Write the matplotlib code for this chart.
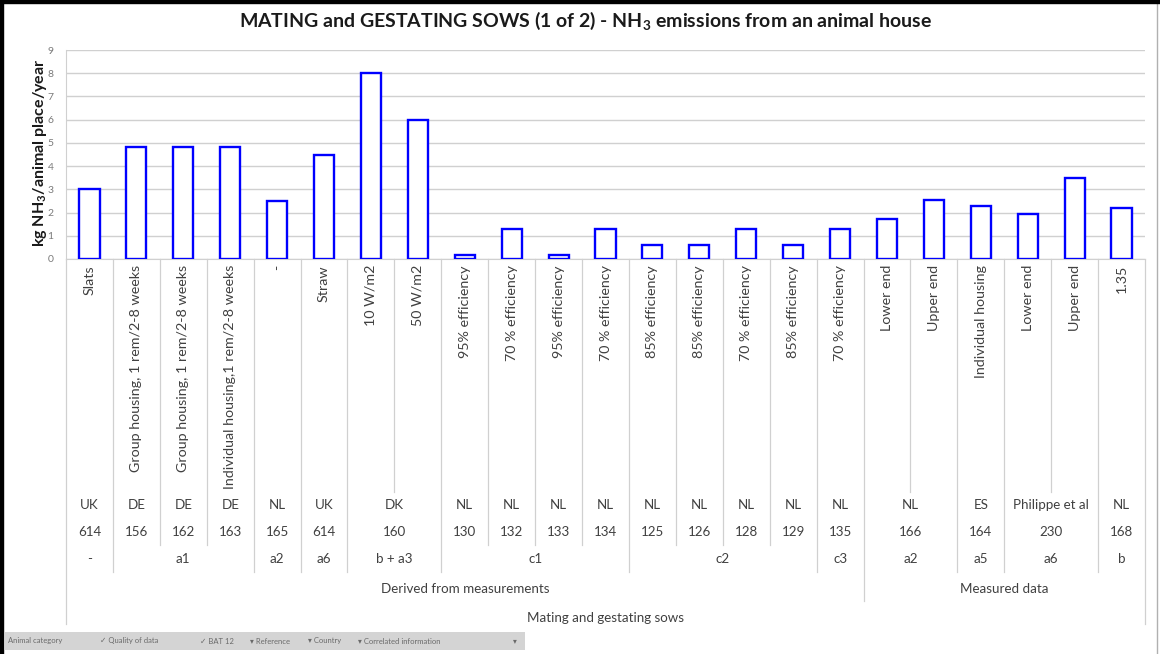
import matplotlib
matplotlib.use("Agg")
import matplotlib.pyplot as plt
from matplotlib.transforms import blended_transform_factory
from matplotlib.patches import Rectangle
from matplotlib.lines import Line2D
import numpy as np

plt.rcParams['font.family'] = ['Lato', 'DejaVu Sans']
plt.rcParams['mathtext.fontset'] = 'custom'
plt.rcParams['mathtext.rm'] = 'Lato'
plt.rcParams['mathtext.bf'] = 'Lato:bold'
plt.rcParams['mathtext.it'] = 'Lato:italic'

# ---------------- data ----------------
labels = ["Slats", "Group housing, 1 rem/2-8 weeks", "Group housing, 1 rem/2-8 weeks",
          "Individual housing,1 rem/2-8 weeks", "-", "Straw", "10 W/m2", "50 W/m2",
          "95% efficiency", "70 % efficiency", "95% efficiency", "70 % efficiency",
          "85% efficiency", "85% efficiency", "70 % efficiency", "85% efficiency",
          "70 % efficiency", "Lower end", "Upper end", "Individual housing",
          "Lower end", "Upper end", "1.35"]
values = [3.0, 4.83, 4.83, 4.83, 2.5, 4.48, 8.03, 6.0,
          0.19, 1.3, 0.19, 1.3, 0.62, 0.62, 1.29, 0.62, 1.3,
          1.74, 2.54, 2.28, 1.94, 3.49, 2.2]
countries = ["UK", "DE", "DE", "DE", "NL", "UK", "DK", "DK",
             "NL", "NL", "NL", "NL", "NL", "NL", "NL", "NL", "NL",
             "NL", "NL", "ES", "Philippe et al", "Philippe et al", "NL"]
references = ["614", "156", "162", "163", "165", "614", "160", "160",
              "130", "132", "133", "134", "125", "126", "128", "129", "135",
              "166", "166", "164", "230", "230", "168"]
bat = ["-", "a1", "a1", "a1", "a2", "a6", "b + a3", "b + a3",
       "c1", "c1", "c1", "c1", "c2", "c2", "c2", "c2", "c3",
       "a2", "a2", "a5", "a6", "a6", "b"]
quality = ["Derived from measurements"] * 17 + ["Measured data"] * 6
animal = ["Mating and gestating sows"] * 23
yticks = list(range(0, 10))

title = "MATING and GESTATING SOWS (1 of 2) - NH$_\\mathbf{3}$ emissions from an animal house"
ylabel = "kg NH$_\\mathbf{3}$/animal place/year"

# ---------------- figure ----------------
W, H = 1160, 654
fig = plt.figure(figsize=(W / 100, H / 100), dpi=100)
fig.patch.set_facecolor("white")

def fy(p):
    return 1 - p / H

def fx(p):
    return p / W

ax_l, ax_r, ax_t, ax_b = 66, 1145, 50, 259
ax = fig.add_axes([fx(ax_l), fy(ax_b), (ax_r - ax_l) / W, (ax_b - ax_t) / H])
n = len(values)
x = np.arange(n)
ax.bar(x, values, width=0.43, facecolor="white", edgecolor="#0000ff", linewidth=1.7, zorder=3)
ax.set_xlim(-0.5, n - 0.5)
ax.set_ylim(0, 9)
ax.set_yticks(yticks)
ax.set_yticklabels([str(t) for t in yticks], fontsize=7.5, color="#7a7a7a")
ax.tick_params(axis="y", length=0, pad=9)
ax.set_xticks([])
ax.yaxis.grid(True, color="#d0d0d0", linewidth=1.0)
ax.set_axisbelow(True)
for s in ["top", "right"]:
    ax.spines[s].set_visible(False)
ax.spines["left"].set_color("#d0d0d0")
ax.spines["bottom"].set_color("#d0d0d0")

# title and y label
fig.text(fx(585), fy(21), title, ha="center", va="center", fontsize=14, fontweight="bold", color="#1a1a1a")
fig.text(fx(40), fy(153), ylabel, ha="center", va="center", rotation=90, fontsize=11.5,
         fontweight="bold", color="#1a1a1a")

# ---------------- multi-level category axis ----------------
trans = blended_transform_factory(ax.transData, fig.transFigure)
levels = [list(range(n)), countries, references, bat, quality, animal]
bottoms = [492, 518, 545, 572, 601, 624]
text_y = [None, 505, 532, 559, 589, 618]
txtcol = "#404040"
linecol = "#d0d0d0"

def key(k, i):
    return tuple(levels[j][i] for j in range(k, len(levels)))

# separator lines
for b in range(n + 1):
    if b == 0 or b == n:
        kk = len(levels) - 1
    else:
        kk = 0
        for k in range(len(levels) - 1, -1, -1):
            if key(k, b - 1) != key(k, b):
                kk = k
                break
    ax.add_line(Line2D([b - 0.5, b - 0.5], [fy(ax_b), fy(bottoms[kk])], transform=trans,
                       color=linecol, linewidth=0.9, clip_on=False))

# rotated labels
for i, lab in enumerate(labels):
    ax.text(i, fy(265), lab, transform=trans, rotation=90, ha="center", va="top",
            fontsize=10.3, color=txtcol, clip_on=False)

# merged cells for outer levels
for k in range(1, len(levels)):
    start = 0
    for i in range(1, n + 1):
        if i == n or key(k, i) != key(k, start):
            xc = (start + i - 1) / 2
            ax.text(xc, fy(text_y[k]), levels[k][start], transform=trans, ha="center",
                    va="center", fontsize=9.6, color=txtcol, clip_on=False)
            start = i

# ---------------- frame & pivot field buttons ----------------
fig.add_artist(Rectangle((0, 0), 3 / W, 1, transform=fig.transFigure, color="black", zorder=10))
fig.add_artist(Rectangle((0, 1 - 3 / H), 1, 3 / H, transform=fig.transFigure, color="black", zorder=10))
fig.add_artist(Line2D([fx(1157), fx(1157)], [0, 1], transform=fig.transFigure, color="#b0b0b0", linewidth=1))

fig.add_artist(Rectangle((fx(5), fy(650)), 520 / W, 18 / H, transform=fig.transFigure,
                         facecolor="#d4d4d4", edgecolor="none"))
buttons = [(8, "Animal category"), (100, "\u2713 Quality of data"), (200, "\u2713 BAT 12"),
           (250, "\u25be Reference"), (308, "\u25be Country"), (358, "\u25be Correlated information"),
           (513, "\u25be")]
for bx, bt in buttons:
    fig.text(fx(bx), fy(641), bt, ha="left", va="center", fontsize=5.5, color="#6a6a6a",
             family=["Lato", "DejaVu Sans"])

fig.savefig("out.png", dpi=100, facecolor="white")
